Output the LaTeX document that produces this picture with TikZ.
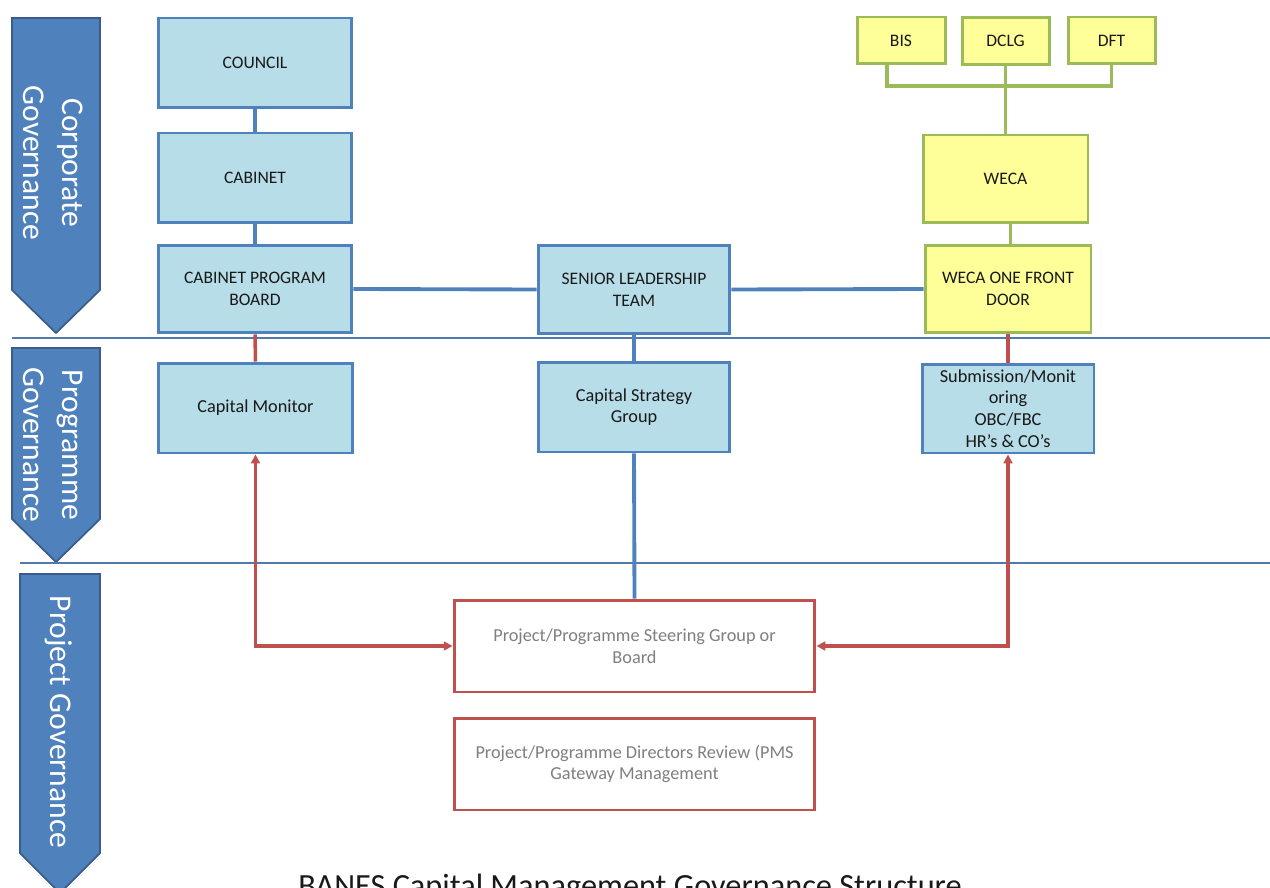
\documentclass[tikz,border=0pt]{standalone}
\usepackage{fontspec}
\setmainfont{Carlito}
\usetikzlibrary{arrows.meta,calc}
\definecolor{boxfill}{HTML}{B7DDE8}
\definecolor{boxline}{HTML}{4F81BD}
\definecolor{yfill}{HTML}{FFFF99}
\definecolor{yline}{HTML}{9BBB59}
\definecolor{redline}{HTML}{C0504D}
\definecolor{greytext}{HTML}{7F7F7F}
\definecolor{arrfill}{HTML}{4F81BD}
\definecolor{arrline}{HTML}{385D8A}
\definecolor{sepline}{HTML}{4F7AAB}
\begin{document}
\begin{tikzpicture}[x=0.02cm,y=-0.02cm,
  boxtext/.style={font=\fontsize{10}{12.3}\selectfont, align=center, text=black!90, inner sep=0pt},
  bbox/.style={boxtext, draw=boxline, fill=boxfill, line width=1.7pt},
  ybox/.style={boxtext, draw=yline, fill=yfill, line width=1.7pt},
  rbox/.style={boxtext, draw=redline, fill=white, line width=1.7pt, text=greytext},
  bline/.style={draw=boxline, line width=2.2pt},
  rline/.style={draw=redline, line width=2pt},
  gline/.style={draw=yline, line width=2.2pt},
  rarrow/.style={rline, {Triangle[length=5pt,width=5pt]}-{Triangle[length=5pt,width=5pt]}},
  sidearrow/.style={fill=arrfill, draw=arrline, line width=1pt},
  sidetext/.style={font=\fontsize{18}{22}\selectfont, text=white, align=center, rotate=-90, inner sep=0pt},
  sep/.style={draw=sepline, line width=0.7pt}
]
\useasboundingbox (0,0) rectangle (1270,888);
\clip (0,0) rectangle (1270,888);

% side arrows
\draw[sidearrow] (12,18) -- (100,18) -- (100,290) -- (56,333) -- (12,290) -- cycle;
\draw[sidearrow] (12,348) -- (100,348) -- (100,519) -- (56,562) -- (12,519) -- cycle;
\draw[sidearrow] (20,574) -- (100,574) -- (100,853) -- (60,893) -- (20,853) -- cycle;
\node[sidetext] (corp) at (53,163) {Corporate\\Governance};
\node[sidetext] (prog) at (53,445) {Programme\\Governance};
\node[sidetext] (proj) at (59,722) {Project Governance};

% separators
\draw[sep] (12,338) -- (1270,338);
\draw[sep] (20,563) -- (1270,563);

% boxes
\node[bbox, minimum width=3.88cm, minimum height=1.8cm] (council) at (255,63) {COUNCIL};
\node[bbox, minimum width=3.88cm, minimum height=1.8cm] (cabinet) at (255,178) {CABINET};
\node[bbox, minimum width=3.88cm, minimum height=1.76cm] (cpb) at (255,289) {CABINET PROGRAM\\BOARD};
\node[bbox, minimum width=3.84cm, minimum height=1.78cm] (slt) at (634,289.5) {SENIOR LEADERSHIP\\TEAM};
\node[ybox, minimum width=3.32cm, minimum height=1.76cm] (wofd) at (1008,289) {WECA ONE FRONT\\DOOR};
\node[ybox, minimum width=3.3cm, minimum height=1.76cm] (weca) at (1005.5,179) {WECA};
\node[ybox, minimum width=1.76cm, minimum height=0.94cm] (bis) at (901,40.5) {BIS};
\node[ybox, minimum width=1.74cm, minimum height=0.94cm] (dclg) at (1005.5,41) {DCLG};
\node[ybox, minimum width=1.74cm, minimum height=0.94cm] (dft) at (1111.5,40.5) {DFT};
\node[bbox, minimum width=3.9cm, minimum height=1.8cm, font=\fontsize{10.4}{12.3}\selectfont] (cm) at (255.5,408) {Capital Monitor};
\node[bbox, minimum width=3.84cm, minimum height=1.8cm, font=\fontsize{10.4}{12.3}\selectfont] (csg) at (634,407) {Capital Strategy\\Group};
\node[bbox, minimum width=3.44cm, minimum height=1.78cm, font=\fontsize{10.4}{12.3}\selectfont] (sub) at (1008,408.5) {Submission/Monit\\oring\\OBC/FBC\\HR’s \& CO’s};
\node[rbox, minimum width=7.22cm, minimum height=1.84cm, font=\fontsize{10.4}{12.3}\selectfont] (steer) at (634.5,646) {Project/Programme Steering Group or\\Board};
\node[rbox, minimum width=7.22cm, minimum height=1.84cm, font=\fontsize{10.4}{12.3}\selectfont] (dir) at (634.5,764) {Project/Programme Directors Review (PMS\\Gateway Management};

% connectors
\draw[bline] (council.south) -- (cabinet.north);
\draw[bline] (cabinet.south) -- (cpb.north);
\draw[bline] (cpb.east) -- (slt.west);
\draw[bline] (slt.east) -- (wofd.west);
\draw[bline] (slt.south) -- (csg.north);
\draw[bline] (csg.south) -- (steer.north);
\draw[rline] (cpb.south) -- (cm.north);
\draw[rline] (wofd.south) -- (sub.north);
\draw[rarrow] (cm.south) |- (steer.west);
\draw[rarrow] (sub.south) |- (steer.east);
\coordinate (bus) at (1005.5,86);
\draw[gline] ([xshift=-0.28cm]bis.south) |- (bus) -| (dft.south);
\draw[gline] (dclg.south) -- (weca.north);
\draw[gline] ([xshift=0.1cm]weca.south) -- ([xshift=0.1cm]weca.south |- wofd.north);

% title
\node[anchor=base, font=\fontsize{18.4}{22}\selectfont, text=black!90, inner sep=0pt] (title) at (630,896) {BANES Capital Management Governance Structure};
\end{tikzpicture}
\end{document}
